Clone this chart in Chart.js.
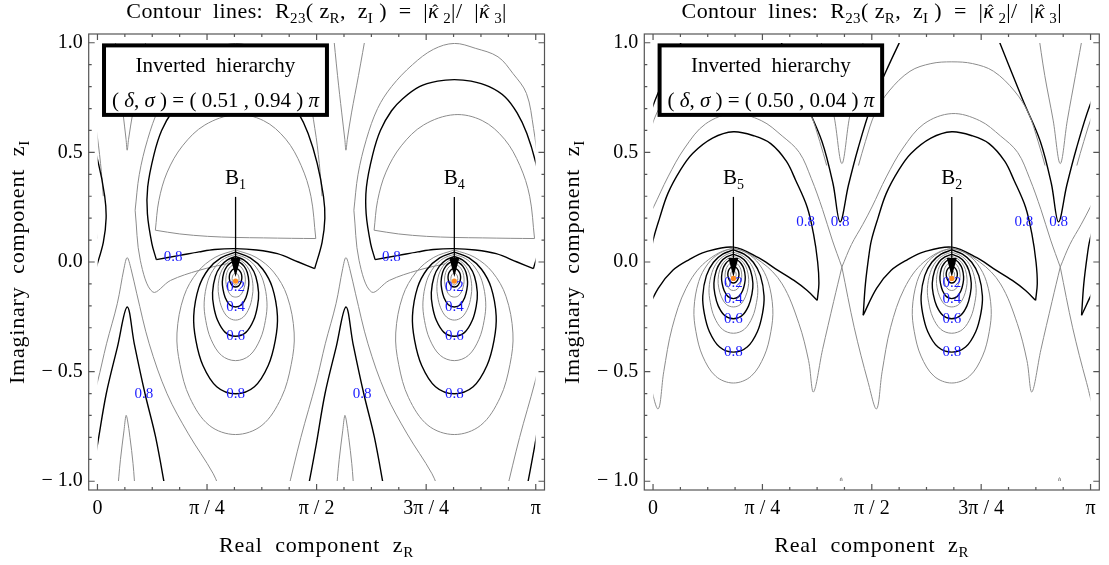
<!DOCTYPE html>
<html>
<head>
<meta charset="utf-8">
<script src="https://cdn.jsdelivr.net/npm/chart.js@4.4.1/dist/chart.umd.min.js"></script>
<style>
  body { margin: 0; background: #fff; width: 1109px; height: 565px; overflow: hidden; position: relative; }
  canvas { position: absolute; top: 0; }
  #chartL { left: 0; }
  #chartR { left: 555px; }
</style>
</head>
<body>
<canvas id="chartL" width="555" height="565"></canvas>
<canvas id="chartR" width="554" height="565"></canvas>
<script>
// Contour plots of R23(zR, zI) for two (delta, sigma) choices

const xTickVals = [0, Math.PI / 4, Math.PI / 2, 3 * Math.PI / 4, Math.PI];
const xTickLabels = ['0', 'π / 4', 'π / 2', '3π / 4', 'π'];
const yTickVals = [-1, -0.5, 0, 0.5, 1];
const yTickLabels = ['− 1.0', '− 0.5', '0.0', '0.5', '1.0'];

// benchmark points (zR, zI) and their names
const benchLeft = [[0.99, -0.087, '1'], [2.558, -0.087, '4']];
const benchRight = [[0.577, -0.075, '5'], [2.145, -0.075, '2']];

// the contour pattern repeats every ~pi/2 along zR; cell centres
const cellsLeft = [-0.578, 0.99, 2.558, 4.126];
const cellsRight = [-0.991, 0.577, 2.145, 3.713];

// closed loops around each benchmark point, right half [dzR, zI], levels 0.1 .. 0.9
const loopLevels = [0.1, 0.2, 0.3, 0.4, 0.5, 0.6, 0.7, 0.8, 0.9];
const loopsLeft = [
  [[0,-.050],[.009,-.052],[.016,-.057],[.022,-.064],[.025,-.075],[.024,-.084],[.020,-.094],[.011,-.102],[0,-.105]],
  [[0,-.030],[.016,-.033],[.029,-.040],[.040,-.051],[.045,-.068],[.043,-.082],[.035,-.097],[.020,-.110],[0,-.114]],
  [[0,-.010],[.025,-.016],[.046,-.028],[.062,-.048],[.070,-.078],[.067,-.103],[.055,-.130],[.032,-.153],[0,-.160]],
  [[0,.005],[.033,-.003],[.062,-.020],[.084,-.048],[.095,-.090],[.090,-.125],[.074,-.163],[.043,-.195],[0,-.205]],
  [[0,.015],[.044,.004],[.081,-.019],[.110,-.055],[.125,-.111],[.119,-.159],[.098,-.209],[.056,-.251],[0,-.265]],
  [[0,.025],[.058,.010],[.107,-.019],[.145,-.066],[.165,-.139],[.157,-.201],[.129,-.266],[.074,-.321],[0,-.339]],
  [[0,.035],[.079,.016],[.146,-.023],[.198,-.086],[.225,-.183],[.214,-.266],[.176,-.353],[.101,-.426],[0,-.450]],
  [[0,.045],[.105,.019],[.195,-.033],[.264,-.117],[.300,-.246],[.285,-.356],[.234,-.472],[.135,-.569],[0,-.601]],
  [[0,.055],[.147,.021],[.273,-.046],[.370,-.156],[.420,-.324],[.399,-.467],[.328,-.619],[.189,-.745],[0,-.787]]
];
const loopsRight = [
  [[0,-.040],[.007,-.041],[.013,-.044],[.018,-.049],[.020,-.056],[.019,-.062],[.016,-.068],[.009,-.073],[0,-.075]],
  [[0,-.020],[.014,-.023],[.026,-.029],[.035,-.039],[.040,-.054],[.038,-.067],[.031,-.081],[.018,-.092],[0,-.096]],
  [[0,.000],[.021,-.005],[.039,-.016],[.053,-.033],[.060,-.059],[.057,-.081],[.047,-.104],[.027,-.124],[0,-.130]],
  [[0,.015],[.030,.008],[.055,-.007],[.075,-.031],[.085,-.067],[.081,-.098],[.066,-.131],[.038,-.158],[0,-.167]],
  [[0,.025],[.039,.016],[.072,-.003],[.097,-.033],[.110,-.079],[.105,-.118],[.086,-.159],[.050,-.194],[0,-.205]],
  [[0,.035],[.049,.023],[.091,.000],[.123,-.039],[.140,-.097],[.133,-.147],[.109,-.200],[.063,-.244],[0,-.259]],
  [[0,.045],[.061,.030],[.114,.001],[.154,-.048],[.175,-.122],[.166,-.184],[.137,-.251],[.079,-.307],[0,-.325]],
  [[0,.055],[.077,.036],[.143,-.001],[.194,-.062],[.220,-.155],[.209,-.234],[.172,-.318],[.099,-.388],[0,-.411]],
  [[0,.065],[.099,.040],[.184,-.009],[.249,-.089],[.283,-.213],[.269,-.318],[.221,-.429],[.127,-.521],[0,-.552]]
];

// left panel: open contour pieces of one cell, [dzR, zI] relative to the cell centre
const archLeft = [[-.568,.011],[-.60,.084],[-.632,.22],[-.63,.342],[-.585,.49],[-.53,.60],[-.45,.69],[-.37,.745],
  [-.25,.80],[-.12,.825],[0,.832],[.12,.825],[.25,.80],[.364,.753],[.45,.68],[.52,.586],[.585,.45],[.63,.30],
  [.64,.20],[.62,.09],[.567,-.03]];
const archBaseLeft = [[.567,-.03],[.45,.0],[.30,.038],[.15,.055],[0,.061],[-.15,.057],[-.262,.046],[-.40,.03],[-.568,.011]];
const capLeft = [[-.575,.145],[-.55,.28],[-.49,.41],[-.38,.53],[-.22,.625],[0,.672],[.2,.645],[.36,.56],[.47,.44],[.54,.30],[.575,.107]];
const capBaseLeft = [[.575,.107],[.4,.108],[.2,.11],[0,.112],[-.2,.117],[-.4,.128],[-.575,.145]];
const outerLeft = [[-.72,.236],[-.69,.40],[-.63,.56],[-.55,.70],[-.45,.80],[-.3,.90],[-.15,.97],[0,.997],[.15,.975],
  [.313,.936],[.42,.86],[.517,.769],[.568,.609],[.60,.45],[.62,.30]];
const notchLeft = [[-.72,.236],[-.683,.008],[-.593,-.137],[-.466,-.084],[-.262,-.038],[-.058,-.007]];
const spikeLeft = [[-1.057,-1.06],[-.992,-.84],[-.927,-.601],[-.847,-.388],[-.777,-.205],[-.726,-.373],[-.649,-.601],[-.573,-.799],[-.497,-1.06]];
const needleLeft = [[-.848,-1.06],[-.825,-.90],[-.800,-.77],[-.785,-.70],[-.775,-.72],[-.757,-.80],[-.735,-.92],[-.718,-1.06]];
const vLeft = [[-.870,1.06],[-.837,.85],[-.807,.68],[-.785,.56],[-.777,.51],[-.767,.56],[-.737,.68],[-.687,.85],[-.628,1.06]];
const tentLeft = [[-1.20,-1.06],[-1.10,-.80],[-.99,-.548],[-.925,-.373],[-.848,-.19],[-.80,-.03],[-.777,.02],[-.75,-.03],
  [-.708,-.145],[-.619,-.373],[-.491,-.601],[-.338,-.784],[-.16,-.966],[-.10,-1.06]];

// right panel pieces of one cell
const domeRight = [[-.636,-.243],[-.62,-.10],[-.595,.03],[-.577,.099],[-.53,.20],[-.471,.312],[-.38,.42],[-.293,.495],
  [-.15,.565],[0,.594],[.15,.575],[.268,.54],[.38,.46],[.447,.373],[.53,.25],[.575,.129],[.605,0],[.614,-.099],[.602,-.175]];
const domeBaseRight = [[.602,-.175],[.53,-.13],[.435,-.084],[.30,-.03],[.18,.02],[0,.068],[-.2,.046],[-.32,.01],[-.435,-.038],[-.54,-.12],[-.636,-.243]];
const vRight = [[-1.261,1.06],[-1.057,.738],[-.932,.55],[-.853,.358],[-.802,.183],[-.742,.35],[-.672,.52],[-.58,.708],[-.472,.87],[-.332,1.06]];
const vInnerRight = [[-.95,1.06],[-.9,.85],[-.84,.647],[-.789,.449],[-.738,.647],[-.68,.85],[-.62,1.06]];
const archHighRight = [[-.67,.44],[-.62,.55],[-.55,.68],[-.45,.78],[-.3,.87],[-.15,.905],[0,.913],[.15,.905],[.3,.87],[.45,.78],[.55,.68],[.62,.55],[.67,.44]];
const archMidRight = [[-.789,-.023],[-.72,.08],[-.64,.17],[-.573,.251],[-.47,.388],[-.35,.52],[-.2,.63],[0,.677],
  [.2,.645],[.35,.575],[.473,.50],[.56,.38],[.64,.24],[.71,.10],[.779,-.023]];
const bowlRight = [[-.789,-.023],[-.70,-.30],[-.60,-.55],[-.54,-.67],[-.50,-.50],[-.44,-.30],[-.34,-.12],[-.2,0],[0,.06],
  [.2,0],[.35,-.10],[.47,-.28],[.54,-.45],[.575,-.593],[.64,-.40],[.72,-.18],[.779,-.023]];
const nubRight = [[-.800,-1.06],[-.800,-.99],[-.794,-.984],[-.788,-.99],[-.788,-1.06]];

// contour value labels [zR, zI, text]
const valueLabelsLeft = [
  [0.99,-0.114,'0.2'],[0.99,-0.205,'0.4'],[0.99,-0.339,'0.6'],[0.99,-0.601,'0.8'],[0.542,0.023,'0.8'],[0.333,-0.601,'0.8'],
  [2.558,-0.114,'0.2'],[2.558,-0.205,'0.4'],[2.558,-0.339,'0.6'],[2.558,-0.601,'0.8'],[2.106,0.023,'0.8'],[1.897,-0.601,'0.8']
];
const valueLabelsRight = [
  [0.577,-0.096,'0.2'],[0.577,-0.167,'0.4'],[0.577,-0.259,'0.6'],[0.577,-0.411,'0.8'],[1.095,0.183,'0.8'],[1.343,0.183,'0.8'],
  [2.145,-0.096,'0.2'],[2.145,-0.167,'0.4'],[2.145,-0.259,'0.6'],[2.145,-0.411,'0.8'],[2.662,0.183,'0.8'],[2.912,0.183,'0.8']
];

const GRAY = '#8c8c8c';
const BLACK = '#000000';
const CLIP = { left: -9, right: -9, top: -9, bottom: -9 };
const SERIF = '"Liberation Serif", "DejaVu Serif", serif';

function track(points, cx, color, width) {
  return {
    data: points.map(p => ({ x: p[0] + cx, y: p[1] })),
    showLine: true,
    borderColor: color,
    borderWidth: width,
    pointRadius: 0,
    tension: 0.35,
    fill: false,
    clip: CLIP
  };
}

function loop(half, cx, color, width) {
  const back = half.slice(0, -1).reverse().map(p => [-p[0], p[1]]);
  return track(half.concat(back), cx, color, width);
}

function loopSets(loops, centres) {
  const sets = [];
  centres.forEach(cx => {
    loops.forEach((half, i) => {
      const black = Math.round(loopLevels[i] * 10) % 2 === 0;
      sets.push(loop(half, cx, black ? BLACK : GRAY, black ? 1.4 : 1.0));
    });
  });
  return sets;
}

function cellSets(pieces, centres) {
  const sets = [];
  centres.forEach(cx => {
    pieces.forEach(p => sets.push(track(p[0], cx, p[1], p[1] === BLACK ? 1.4 : 1.0)));
  });
  return sets;
}

const leftSets = loopSets(loopsLeft, benchLeft.map(b => b[0])).concat(cellSets([
  [archLeft, BLACK], [archBaseLeft, BLACK], [capLeft, GRAY], [capBaseLeft, GRAY], [outerLeft, GRAY],
  [notchLeft, GRAY], [spikeLeft, BLACK], [needleLeft, GRAY], [vLeft, GRAY], [tentLeft, GRAY]
], cellsLeft));

const rightSets = loopSets(loopsRight, benchRight.map(b => b[0])).concat(cellSets([
  [domeRight, BLACK], [domeBaseRight, BLACK], [vRight, BLACK], [vInnerRight, GRAY],
  [archHighRight, GRAY], [archMidRight, GRAY], [bowlRight, GRAY], [nubRight, GRAY]
], cellsRight));

// text with subscripts / italics: parts = [[text, kind]]
// kind '' normal, 's' subscript, 'i' italic, 'h' italic with a hat
function partFont(kind, size) {
  const s = kind === 's' ? Math.round(size * 0.68) : size;
  return (kind === 'i' || kind === 'h' ? 'italic ' : '') + s + 'px ' + SERIF;
}
function richWidth(ctx, parts, size) {
  let w = 0;
  parts.forEach(p => { ctx.font = partFont(p[1], size); w += ctx.measureText(p[0]).width; });
  return w;
}
function drawRich(ctx, parts, x, y, size, spacing) {
  ctx.letterSpacing = (spacing || 0) + 'px';
  let cx = x - richWidth(ctx, parts, size) / 2;
  ctx.textAlign = 'left';
  ctx.textBaseline = 'alphabetic';
  parts.forEach(p => {
    ctx.font = partFont(p[1], size);
    const w = ctx.measureText(p[0]).width;
    ctx.fillText(p[0], cx, y + (p[1] === 's' ? size * 0.22 : 0));
    if (p[1] === 'h') {
      ctx.font = Math.round(size * 0.75) + 'px ' + SERIF;
      ctx.textAlign = 'center';
      ctx.fillText('ˆ', cx + w / 2 + size * 0.08, y - size * 0.1);
      ctx.textAlign = 'left';
    }
    cx += w;
  });
  ctx.letterSpacing = '0px';
}

const titleParts = [['Contour  lines:  R', ''], ['23', 's'], ['( z', ''], ['R', 's'], [',  z', ''], ['I', 's'],
  [' )  =  |', ''], ['κ', 'h'], [' 2', 's'], ['|/  |', ''], ['κ', 'h'], [' 3', 's'], ['|', '']];
const xTitleParts = [['Real  component  z', ''], ['R', 's']];
const yTitleParts = [['Imaginary  component  z', ''], ['I', 's']];

const decor = {
  id: 'decor',
  afterDatasetsDraw(chart, args, opts) {
    const ctx = chart.ctx;
    const xs = chart.scales.x, ys = chart.scales.y;
    const px = v => xs.getPixelForValue(v), py = v => ys.getPixelForValue(v);
    ctx.save();
    // contour values
    ctx.fillStyle = '#1a1aff';
    ctx.font = '15px ' + SERIF;
    ctx.textAlign = 'center';
    ctx.textBaseline = 'middle';
    opts.values.forEach(l => ctx.fillText(l[2], px(l[0]), py(l[1])));
    // benchmark arrows, names and dots
    opts.bench.forEach(b => {
      const x = px(b[0]);
      const top = py(0.297), tip = py(-0.068);
      ctx.strokeStyle = '#000';
      ctx.lineWidth = 1.3;
      ctx.beginPath(); ctx.moveTo(x, top); ctx.lineTo(x, tip - 14); ctx.stroke();
      ctx.fillStyle = '#000';
      ctx.beginPath(); ctx.moveTo(x, tip); ctx.lineTo(x - 5, tip - 19); ctx.lineTo(x + 5, tip - 19); ctx.closePath(); ctx.fill();
      drawRich(ctx, [['B', ''], [b[2], 's']], x, py(0.388) + 7, 21);
      ctx.fillStyle = '#ff8a1c';
      ctx.beginPath(); ctx.arc(x, py(b[1]), 2.6, 0, Math.PI * 2); ctx.fill();
    });
    // legend box
    const bx1 = px(0.047), bx2 = px(1.645), by1 = py(0.988), by2 = py(0.671);
    ctx.fillStyle = '#fff';
    ctx.fillRect(bx1, by1, bx2 - bx1, by2 - by1);
    ctx.strokeStyle = '#000';
    ctx.lineWidth = 4;
    ctx.strokeRect(bx1, by1, bx2 - bx1, by2 - by1);
    ctx.fillStyle = '#000';
    const mid = (bx1 + bx2) / 2;
    drawRich(ctx, [['Inverted  hierarchy', '']], mid, by1 + 27, 21);
    drawRich(ctx, [['( ', ''], ['δ', 'i'], [', ', ''], ['σ', 'i'], [' ) = ( ' + opts.params[0] + ' , ' + opts.params[1] + ' ) ', ''], ['π', 'i']], mid, by1 + 62, 21);
    ctx.restore();
  },
  afterDraw(chart) {
    const ctx = chart.ctx;
    const a = chart.chartArea;
    const xs = chart.scales.x, ys = chart.scales.y;
    ctx.save();
    ctx.strokeStyle = '#555';
    ctx.lineWidth = 1.2;
    ctx.strokeRect(a.left, a.top, a.right - a.left, a.bottom - a.top);
    ctx.beginPath();
    for (let k = 0; k <= 16; k++) {
      const x = xs.getPixelForValue(k * Math.PI / 16);
      const len = k % 4 === 0 ? 6 : 3;
      ctx.moveTo(x, a.bottom); ctx.lineTo(x, a.bottom - len);
      ctx.moveTo(x, a.top); ctx.lineTo(x, a.top + len);
    }
    for (let k = -10; k <= 10; k++) {
      const y = ys.getPixelForValue(k / 10);
      const len = k % 5 === 0 ? 6 : 3;
      ctx.moveTo(a.left, y); ctx.lineTo(a.left + len, y);
      ctx.moveTo(a.right, y); ctx.lineTo(a.right - len, y);
    }
    ctx.stroke();
    // titles
    ctx.fillStyle = '#000';
    const cx = (a.left + a.right) / 2;
    drawRich(ctx, titleParts, cx, 18, 22, 0.4);
    drawRich(ctx, xTitleParts, cx, 552, 22, 0.8);
    ctx.translate(24, (a.top + a.bottom) / 2);
    ctx.rotate(-Math.PI / 2);
    drawRich(ctx, yTitleParts, 0, 0, 22, 0.8);
    ctx.restore();
  }
};

function makeChart(id, sets, yAxisWidth, rightPad, opts) {
  return new Chart(document.getElementById(id), {
    type: 'scatter',
    data: { datasets: sets },
    options: {
      responsive: false,
      animation: false,
      events: [],
      devicePixelRatio: 1,
      layout: { padding: { top: 34, right: rightPad, left: 0, bottom: 0 } },
      plugins: { legend: { display: false }, tooltip: { enabled: false }, decor: opts },
      scales: {
        x: {
          type: 'linear', min: -0.0628, max: Math.PI + 0.0628,
          grid: { display: false, drawTicks: false }, border: { display: false },
          afterBuildTicks: s => { s.ticks = xTickVals.map(v => ({ value: v })); },
          afterFit: s => { s.height = 75; },
          ticks: {
            autoSkip: false, maxRotation: 0, padding: 7, color: '#000',
            font: { family: SERIF, size: 20 },
            callback: (v, i) => xTickLabels[i]
          }
        },
        y: {
          type: 'linear', min: -1.04, max: 1.04,
          grid: { display: false, drawTicks: false }, border: { display: false },
          afterBuildTicks: s => { s.ticks = yTickVals.map(v => ({ value: v })); },
          afterFit: s => { s.width = yAxisWidth; },
          ticks: {
            autoSkip: false, padding: 6, color: '#000',
            font: { family: SERIF, size: 20 },
            callback: (v, i) => yTickLabels[i]
          }
        }
      }
    },
    plugins: [decor]
  });
}

makeChart('chartL', leftSets, 88.7, 10.5, { values: valueLabelsLeft, bench: benchLeft, params: ['0.51', '0.94'] });
makeChart('chartR', rightSets, 89.3, 9.7, { values: valueLabelsRight, bench: benchRight, params: ['0.50', '0.04'] });
</script>
</body>
</html>
